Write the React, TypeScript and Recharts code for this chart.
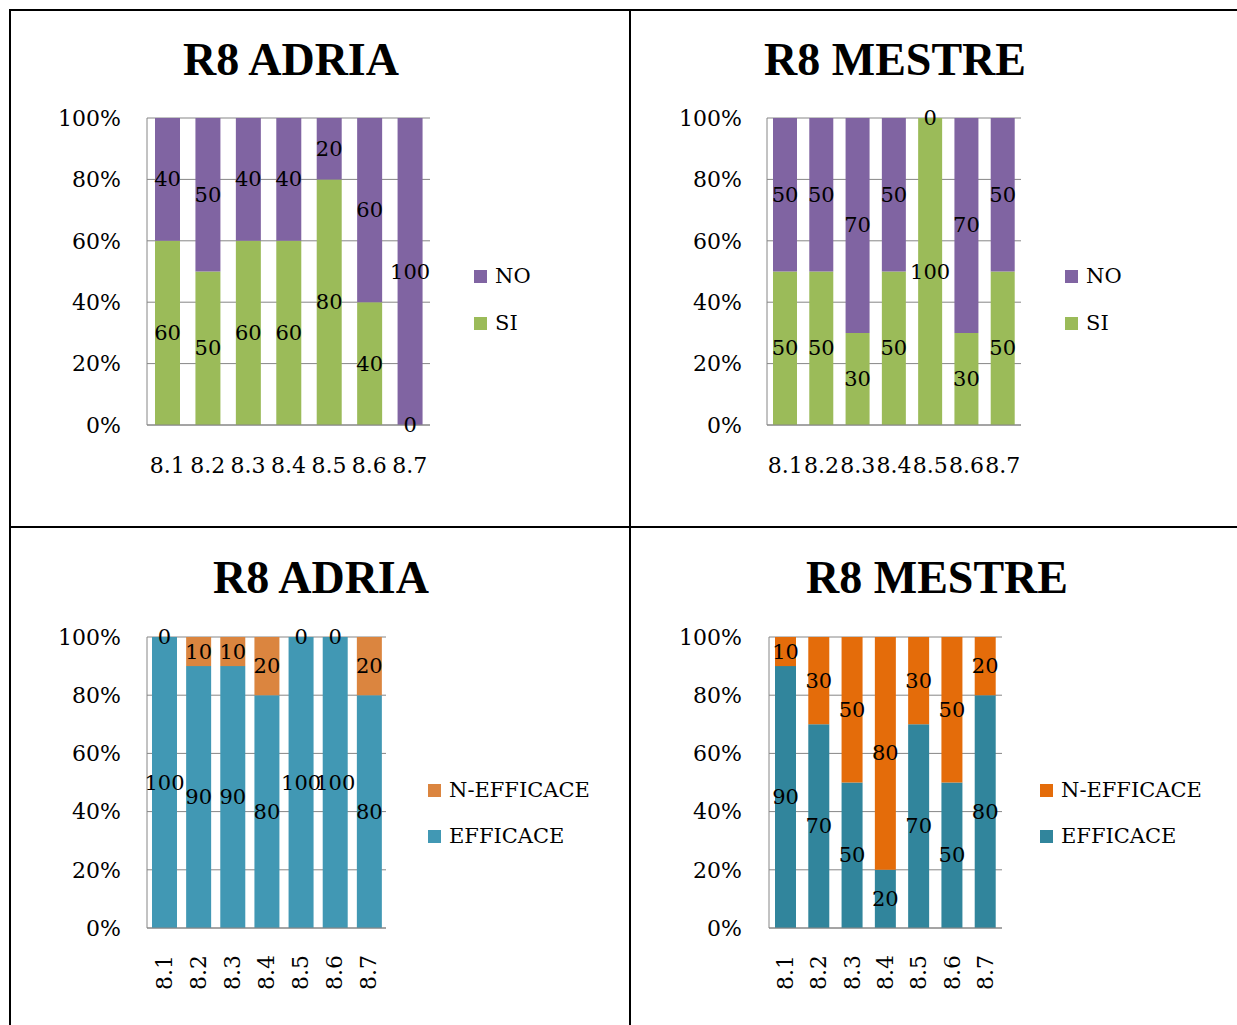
import { Bar, BarChart, CartesianGrid, LabelList, XAxis, YAxis } from "recharts";

const CATEGORIES = ["8.1", "8.2", "8.3", "8.4", "8.5", "8.6", "8.7"];
const Y_TICKS = [0, 20, 40, 60, 80, 100];

// SI / NO answers, percent per item
const ADRIA_SI = [60, 50, 60, 60, 80, 40, 0];
const ADRIA_NO = [40, 50, 40, 40, 20, 60, 100];
const MESTRE_SI = [50, 50, 30, 50, 100, 30, 50];
const MESTRE_NO = [50, 50, 70, 50, 0, 70, 50];

// efficacy split, percent per item
const ADRIA_EFF = [100, 90, 90, 80, 100, 100, 80];
const ADRIA_NEFF = [0, 10, 10, 20, 0, 0, 20];
const MESTRE_EFF = [90, 70, 50, 20, 70, 50, 80];
const MESTRE_NEFF = [10, 30, 50, 80, 30, 50, 20];

const FONT = "'DejaVu Serif', serif";
const TITLE_FONT = "'Liberation Serif', serif";
const GRID = "#868686";
const TEXT_SIZE = 21;
const TICK_SIZE = 22;

function toRows(lower: number[], upper: number[]) {
  return CATEGORIES.map((name, i) => ({ name, lower: lower[i], upper: upper[i] }));
}

const RotatedTick = (props: any) => {
  const { x, y, payload } = props;
  return (
    <text
      x={x}
      y={y}
      transform={`rotate(-90, ${x}, ${y})`}
      textAnchor="end"
      dominantBaseline="central"
      fill="#000"
      fontSize={TICK_SIZE}
      fontFamily={FONT}
    >
      {payload.value}
    </text>
  );
};

function labelText(key: string, x: number, y: number, value: number) {
  return (
    <text
      key={key}
      x={x}
      y={y}
      textAnchor="middle"
      dominantBaseline="central"
      fill="#000"
      fontSize={TEXT_SIZE}
      fontFamily={FONT}
    >
      {String(value)}
    </text>
  );
}

// Value in the middle of its segment. Zero-height segments get no rect of
// their own, so the neighbouring segment prints the "0" at the shared edge.
function segmentLabel(other: number[], side: "top" | "bottom") {
  return (props: any) => {
    const { x, y, width, height, value, index } = props;
    if (x == null || y == null) return null;
    const cx = Number(x) + Number(width) / 2;
    const top = Number(y);
    const h = Number(height);
    const zero = other[index] === 0;
    return (
      <g>
        {labelText("v", cx, top + h / 2, value)}
        {zero && labelText("z", cx, side === "top" ? top : top + h, 0)}
      </g>
    );
  };
}

interface PanelProps {
  left: number;
  top: number;
  width: number;
  height: number;
  clip?: number;
  lower: number[];
  upper: number[];
  lowerName: string;
  upperName: string;
  lowerColor: string;
  upperColor: string;
  yAxisWidth: number;
  yTickMargin: number;
  marginTop: number;
  marginRight: number;
  marginBottom: number;
  xAxisHeight: number;
  xTickMargin: number;
  rotated?: boolean;
  barSize: number;
  legendLeft: number;
  legendTop: number;
  legendGap: number;
}

function Panel(p: PanelProps) {
  const data = toRows(p.lower, p.upper);
  const legendItems = [
    { name: p.upperName, color: p.upperColor },
    { name: p.lowerName, color: p.lowerColor },
  ];
  return (
    <div
      style={{
        position: "absolute",
        left: p.left,
        top: p.top,
        width: p.width,
        height: p.clip ?? p.height,
        overflow: "hidden",
      }}
    >
      <BarChart
        width={p.width}
        height={p.height}
        data={data}
        margin={{ top: p.marginTop, right: p.marginRight, bottom: p.marginBottom, left: 0 }}
      >
        <CartesianGrid vertical={false} stroke={GRID} />
        <XAxis
          dataKey="name"
          height={p.xAxisHeight}
          tickSize={0}
          tickMargin={p.xTickMargin}
          axisLine={{ stroke: GRID }}
          interval={0}
          tick={p.rotated ? RotatedTick : { fill: "#000", fontSize: TICK_SIZE, fontFamily: FONT }}
        />
        <YAxis
          width={p.yAxisWidth}
          domain={[0, 100]}
          ticks={Y_TICKS}
          tickFormatter={(v: number) => `${v}%`}
          tickSize={0}
          tickMargin={p.yTickMargin}
          axisLine={{ stroke: GRID }}
          tick={{ fill: "#000", fontSize: TICK_SIZE, fontFamily: FONT }}
        />
        <Bar dataKey="lower" name={p.lowerName} stackId="s" fill={p.lowerColor} barSize={p.barSize} isAnimationActive={false}>
          <LabelList dataKey="lower" content={segmentLabel(p.upper, "top")} />
        </Bar>
        <Bar dataKey="upper" name={p.upperName} stackId="s" fill={p.upperColor} barSize={p.barSize} isAnimationActive={false}>
          <LabelList dataKey="upper" content={segmentLabel(p.lower, "bottom")} />
        </Bar>
      </BarChart>
      <div
        style={{
          position: "absolute",
          left: p.legendLeft,
          top: p.legendTop,
          fontFamily: FONT,
          fontSize: TEXT_SIZE,
          color: "#000",
        }}
      >
        {legendItems.map((item, i) => (
          <div
            key={item.name}
            style={{
              display: "flex",
              alignItems: "center",
              height: 24,
              marginBottom: i === 0 ? p.legendGap : 0,
              whiteSpace: "nowrap",
            }}
          >
            <span style={{ width: 13, height: 13, background: item.color, marginRight: 8, display: "inline-block" }} />
            <span>{item.name}</span>
          </div>
        ))}
      </div>
    </div>
  );
}

const titleStyle = { fontFamily: TITLE_FONT, fontWeight: 700, fontSize: 46 };

export default function App() {
  return (
    <div
      style={{
        position: "absolute",
        left: 0,
        top: 0,
        width: 1237,
        height: 1025,
        overflow: "hidden",
        background: "#fff",
      }}
    >
      <svg width={1237} height={1025} style={{ position: "absolute", left: 0, top: 0 }}>
        <rect x={9} y={9} width={1228} height={2} fill="#000" />
        <rect x={9} y={9} width={2} height={1016} fill="#000" />
        <rect x={629} y={9} width={2} height={1016} fill="#000" />
        <rect x={9} y={526} width={1228} height={2} fill="#000" />
        <text x={291} y={75} textAnchor="middle" {...titleStyle}>R8 ADRIA</text>
        <text x={895} y={75} textAnchor="middle" {...titleStyle}>R8 MESTRE</text>
        <text x={321} y={593} textAnchor="middle" {...titleStyle}>R8 ADRIA</text>
        <text x={937} y={593} textAnchor="middle" {...titleStyle}>R8 MESTRE</text>
      </svg>

      <Panel
        left={20} top={100} width={600} height={390} clip={375}
        lower={ADRIA_SI} upper={ADRIA_NO} lowerName="SI" upperName="NO"
        lowerColor="#9BBB59" upperColor="#8064A2"
        yAxisWidth={127} yTickMargin={26}
        marginTop={18} marginRight={190} marginBottom={15}
        xAxisHeight={50} xTickMargin={32} barSize={25}
        legendLeft={454} legendTop={164} legendGap={23}
      />
      <Panel
        left={640} top={100} width={597} height={390} clip={375}
        lower={MESTRE_SI} upper={MESTRE_NO} lowerName="SI" upperName="NO"
        lowerColor="#9BBB59" upperColor="#8064A2"
        yAxisWidth={127} yTickMargin={25}
        marginTop={18} marginRight={216} marginBottom={15}
        xAxisHeight={50} xTickMargin={32} barSize={24}
        legendLeft={425} legendTop={164} legendGap={23}
      />
      <Panel
        left={20} top={620} width={600} height={400}
        lower={ADRIA_EFF} upper={ADRIA_NEFF} lowerName="EFFICACE" upperName="N-EFFICACE"
        lowerColor="#4198B4" upperColor="#DB853F"
        yAxisWidth={127} yTickMargin={26}
        marginTop={17} marginRight={234} marginBottom={12}
        xAxisHeight={80} xTickMargin={27} rotated barSize={25}
        legendLeft={408} legendTop={158} legendGap={22}
      />
      <Panel
        left={640} top={620} width={597} height={400}
        lower={MESTRE_EFF} upper={MESTRE_NEFF} lowerName="EFFICACE" upperName="N-EFFICACE"
        lowerColor="#31859C" upperColor="#E46C0A"
        yAxisWidth={129} yTickMargin={27}
        marginTop={17} marginRight={235} marginBottom={12}
        xAxisHeight={80} xTickMargin={27} rotated barSize={21}
        legendLeft={400} legendTop={158} legendGap={22}
      />
    </div>
  );
}
